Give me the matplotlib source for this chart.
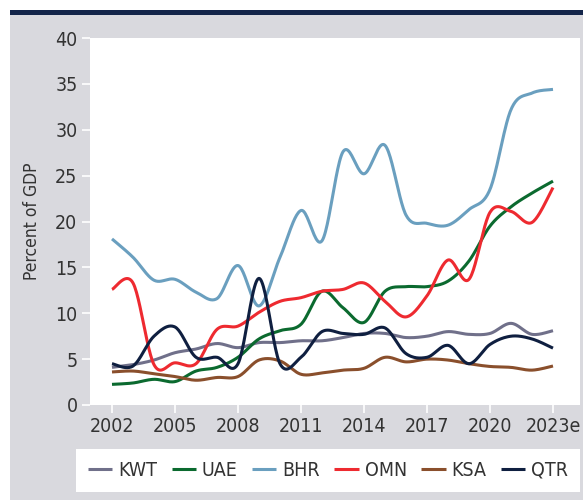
import numpy as np
import matplotlib.pyplot as plt
from matplotlib.patches import Rectangle

plt.rcParams['font.family'] = ['DejaVu Sans']
plt.rcParams['font.stretch'] = 'condensed'

years = np.arange(2002, 2024)
tick_years = [2002, 2005, 2008, 2011, 2014, 2017, 2020, 2023]
tick_labels = ['2002', '2005', '2008', '2011', '2014', '2017', '2020', '2023e']

kwt = [4.1, 4.4, 4.9, 5.7, 6.1, 6.7, 6.25, 6.8, 6.8, 7.0, 7.0, 7.35, 7.8, 7.8, 7.35, 7.5, 8.0, 7.7, 7.8, 8.9, 7.7, 8.1]
uae = [2.25, 2.4, 2.8, 2.55, 3.7, 4.1, 5.2, 7.2, 8.1, 8.8, 12.4, 10.6, 9.0, 12.4, 12.9, 12.9, 13.5, 15.7, 19.5, 21.6, 23.1, 24.4]
bhr = [18.1, 16.1, 13.6, 13.7, 12.3, 11.6, 15.2, 10.8, 16.1, 21.2, 17.9, 27.6, 25.2, 28.3, 20.7, 19.8, 19.6, 21.3, 23.5, 32.2, 34.0, 34.4]
omn = [12.6, 13.3, 4.4, 4.6, 4.5, 8.25, 8.6, 10.1, 11.3, 11.7, 12.4, 12.6, 13.3, 11.3, 9.6, 11.9, 15.8, 13.7, 21.0, 21.1, 19.9, 23.7]
ksa = [3.6, 3.7, 3.4, 3.1, 2.7, 3.0, 3.1, 4.9, 4.8, 3.35, 3.5, 3.8, 4.0, 5.2, 4.7, 5.0, 4.9, 4.5, 4.2, 4.1, 3.8, 4.25]
qtr = [4.5, 4.25, 7.5, 8.5, 5.2, 5.2, 4.5, 13.8, 4.5, 5.2, 8.0, 7.8, 7.7, 8.4, 5.6, 5.2, 6.5, 4.5, 6.6, 7.5, 7.2, 6.2]

series = [('KWT', kwt, '#70708a'), ('UAE', uae, '#0b6a2f'), ('BHR', bhr, '#6a9fbf'),
          ('OMN', omn, '#ee2a30'), ('KSA', ksa, '#8a4f2c'), ('QTR', qtr, '#0f1f40')]


def smooth(x, y, n=24):
    # smoothed line like a spreadsheet chart (cubic bezier through the points)
    x = np.asarray(x, float)
    y = np.asarray(y, float)
    px = np.concatenate([[x[0]], x, [x[-1]]])
    py = np.concatenate([[y[0]], y, [y[-1]]])
    xs, ys = [], []
    t = np.linspace(0, 1, n, endpoint=False)
    for i in range(1, len(px) - 2):
        p0x, p1x, p2x, p3x = px[i-1:i+3]
        p0y, p1y, p2y, p3y = py[i-1:i+3]
        c1x, c1y = p1x + (p2x - p0x) / 6, p1y + (p2y - p0y) / 6
        c2x, c2y = p2x - (p3x - p1x) / 6, p2y - (p3y - p1y) / 6
        xs.append((1-t)**3*p1x + 3*(1-t)**2*t*c1x + 3*(1-t)*t**2*c2x + t**3*p2x)
        ys.append((1-t)**3*p1y + 3*(1-t)**2*t*c1y + 3*(1-t)*t**2*c2y + t**3*p2y)
    xs.append([x[-1]])
    ys.append([y[-1]])
    return np.concatenate(xs), np.concatenate(ys)


fig = plt.figure(figsize=(5.83, 5.0), dpi=100, facecolor='white')

# background panel, top rule and legend box
bgax = fig.add_axes([0, 0, 1, 1], zorder=-1)
bgax.set_xlim(0, 583)
bgax.set_ylim(500, 0)
bgax.axis('off')
bgax.add_patch(Rectangle((10, 15), 573, 485, facecolor='#d9d9de', edgecolor='none'))
bgax.add_patch(Rectangle((10, 10), 573, 5, facecolor='#13254a', edgecolor='none'))
bgax.add_patch(Rectangle((76, 449), 504, 43, facecolor='white', edgecolor='none'))

ax = fig.add_axes([90/583, 95/500, 490/583, 367/500])
ax.set_facecolor('white')
for name, vals, col in series:
    sx, sy = smooth(years, vals)
    ax.plot(sx, sy, color=col, lw=2.2, label=name, solid_capstyle='butt')

ax.set_xlim(2002 - 22/21, 2023 + 27/21)
ax.set_ylim(0, 40)
ax.set_yticks(range(0, 41, 5))
ax.set_xticks(tick_years)
ax.set_xticklabels(tick_labels)
for s in ax.spines.values():
    s.set_visible(False)
ax.tick_params(axis='both', colors='white', length=6, width=1.2, labelsize=14,
               labelcolor='#333333')
ax.tick_params(axis='y', pad=3)
ax.tick_params(axis='x', pad=3)
ax.set_ylabel('Percent of GDP', fontsize=12.5, color='#333333', labelpad=10)

handles, labels = ax.get_legend_handles_labels()
fig.legend(handles, labels, loc='center', bbox_to_anchor=(328/583, 29.5/500), ncol=6,
           frameon=False, fontsize=14, handlelength=1.25, handletextpad=0.3,
           columnspacing=0.75, labelcolor='#333333')

fig.savefig('out.png', dpi=100, facecolor='white')
